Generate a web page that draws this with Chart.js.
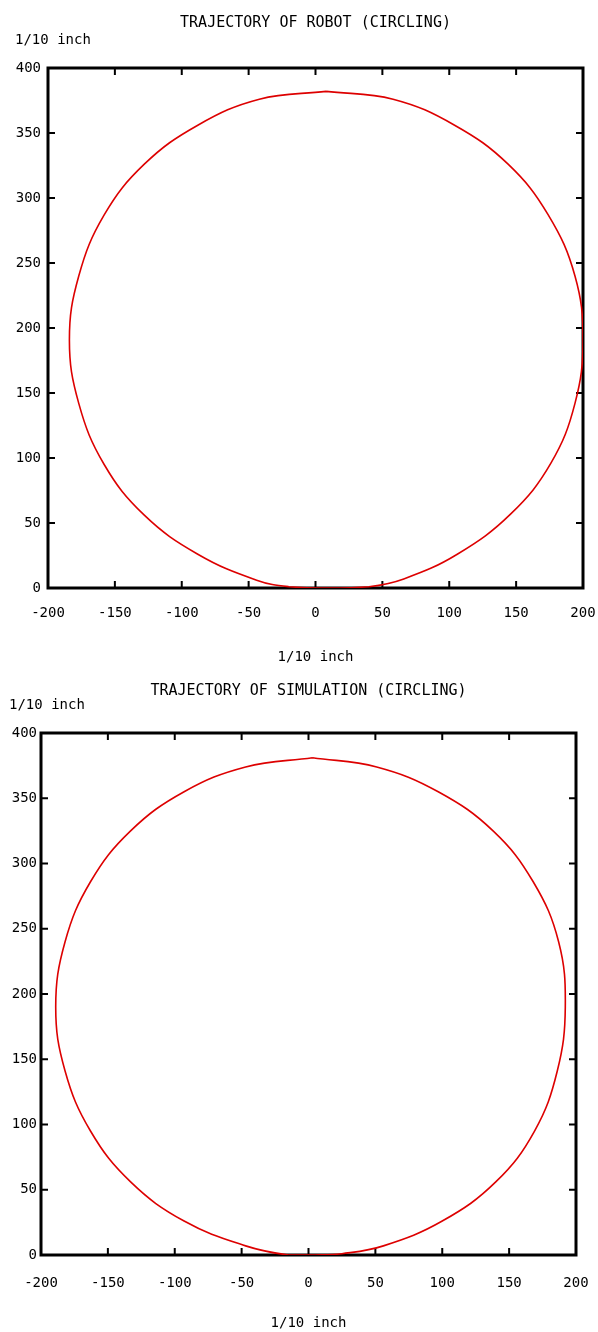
<!DOCTYPE html>
<html>
<head>
<meta charset="utf-8">
<script src="https://cdn.jsdelivr.net/npm/chart.js@4/dist/chart.umd.min.js"></script>
<style>
    body { margin: 0; background: #fff; }
    canvas { display: block; }
</style>
</head>
<body>
<canvas id="robotChart" width="598" height="666"></canvas>
<canvas id="simChart" width="598" height="666"></canvas>
<script>
// values (1/10 inch), loop starts at the top and runs anticlockwise
const robotX = [8, -42, -88, -128, -158, -177, -184, -177, -158, -128, -88, -44, -20, 10, 40, 66, 106, 146, 176, 194, 200, 194, 174, 144, 104, 58, 8]
const robotY = [382, 376, 356, 326, 287, 240, 191, 142, 95, 56, 26, 6, 1, 0, 1, 7, 26, 57, 96, 142, 191, 240, 287, 326, 356, 376, 382]

const simX = [3, -47, -93, -133, -163, -182, -189, -182, -163, -133, -93, -47, -15, 5, 25, 56, 100, 140, 169, 186, 192, 187, 168, 138, 97, 51, 3]
const simY = [381, 374, 355, 325, 286, 240, 190, 141, 95, 56, 26, 7, 0, 0, 1, 7, 26, 56, 95, 141, 190, 240, 286, 325, 355, 374, 381]

const xTicks = [-200, -150, -100, -50, 0, 50, 100, 150, 200]
const yTicks = [0, 50, 100, 150, 200, 250, 300, 350, 400]
const unitLabel = '1/10 inch'

const FONT = "'DejaVu Sans Mono', 'Liberation Mono', monospace"

// frame + inward tick marks on all four sides, plus the horizontal y unit label
const framePlugin = {
    id: 'frameTicks',
    beforeDatasetsDraw: (chart) => {
        const {ctx, chartArea: a} = chart
        const xs = chart.scales.x, ys = chart.scales.y
        const len = 7
        ctx.save()
        ctx.strokeStyle = '#000'
        ctx.lineWidth = 2
        ctx.beginPath()
        xTicks.slice(1, -1).forEach(v => {
            const px = xs.getPixelForValue(v)
            ctx.moveTo(px, a.bottom); ctx.lineTo(px, a.bottom - len)
            ctx.moveTo(px, a.top); ctx.lineTo(px, a.top + len)
        })
        yTicks.slice(1, -1).forEach(v => {
            const py = ys.getPixelForValue(v)
            ctx.moveTo(a.left, py); ctx.lineTo(a.left + len, py)
            ctx.moveTo(a.right, py); ctx.lineTo(a.right - len, py)
        })
        ctx.stroke()
        ctx.lineWidth = 3
        ctx.strokeRect(a.left, a.top, a.right - a.left, a.bottom - a.top)
        ctx.restore()
    },
    afterDraw: (chart, args, options) => {
        const {ctx} = chart
        ctx.save()
        ctx.fillStyle = '#000'
        ctx.font = '14px ' + FONT
        ctx.textAlign = 'left'
        ctx.textBaseline = 'middle'
        ctx.fillText(unitLabel, options.labelX, options.labelY)
        ctx.restore()
    }
}

const makeTrajectoryChart = (canvasId, titleText, xs, ys, geo) => {
    return new Chart(document.getElementById(canvasId), {
        type: 'scatter',
        data: {
            datasets: [{
                data: xs.map((x, i) => ({ x: x, y: ys[i] })),
                showLine: true,
                borderColor: '#dd0000',
                borderWidth: 1.6,
                pointRadius: 0,
                tension: 0.4,
                fill: false
            }]
        },
        options: {
            responsive: false,
            animation: false,
            devicePixelRatio: 1,
            layout: {
                padding: 0
            },
            plugins: {
                legend: { display: false },
                tooltip: { enabled: false },
                title: {
                    display: true,
                    text: titleText,
                    fullSize: false,
                    color: '#000',
                    font: { family: FONT, size: 15, weight: 'normal' },
                    padding: { top: geo.titleTop, bottom: geo.titleBottom }
                },
                frameTicks: { labelX: geo.labelX, labelY: geo.labelY }
            },
            scales: {
                x: {
                    type: 'linear',
                    min: -200,
                    max: 200,
                    afterBuildTicks: s => { s.ticks = xTicks.map(v => ({ value: v })) },
                    afterFit: s => {
                        s.height = geo.xHeight
                        s.paddingLeft = 0
                        s.paddingRight = geo.right
                    },
                    grid: { display: false, drawTicks: false },
                    border: { display: false },
                    ticks: {
                        color: '#000',
                        padding: geo.xPad,
                        maxRotation: 0,
                        font: { family: FONT, size: 14 }
                    },
                    title: {
                        display: true,
                        text: unitLabel,
                        color: '#000',
                        padding: 0,
                        font: { family: FONT, size: 14 }
                    }
                },
                y: {
                    type: 'linear',
                    min: 0,
                    max: 400,
                    afterBuildTicks: s => { s.ticks = yTicks.map(v => ({ value: v })) },
                    afterFit: s => { s.width = geo.yWidth },
                    grid: { display: false, drawTicks: false },
                    border: { display: false },
                    ticks: {
                        color: '#000',
                        padding: geo.yPad,
                        font: { family: FONT, size: 14 }
                    }
                }
            }
        },
        plugins: [framePlugin]
    })
}

makeTrajectoryChart('robotChart', 'TRAJECTORY OF ROBOT (CIRCLING)', robotX, robotY, {
    right: 15, yWidth: 48, yPad: 7, xHeight: 78, xPad: 17,
    titleTop: 14, titleBottom: 36, labelX: 15, labelY: 40
})

makeTrajectoryChart('simChart', 'TRAJECTORY OF SIMULATION (CIRCLING)', simX, simY, {
    right: 22, yWidth: 41, yPad: 4, xHeight: 77, xPad: 20,
    titleTop: 16, titleBottom: 33, labelX: 9, labelY: 39
})
</script>
</body>
</html>
